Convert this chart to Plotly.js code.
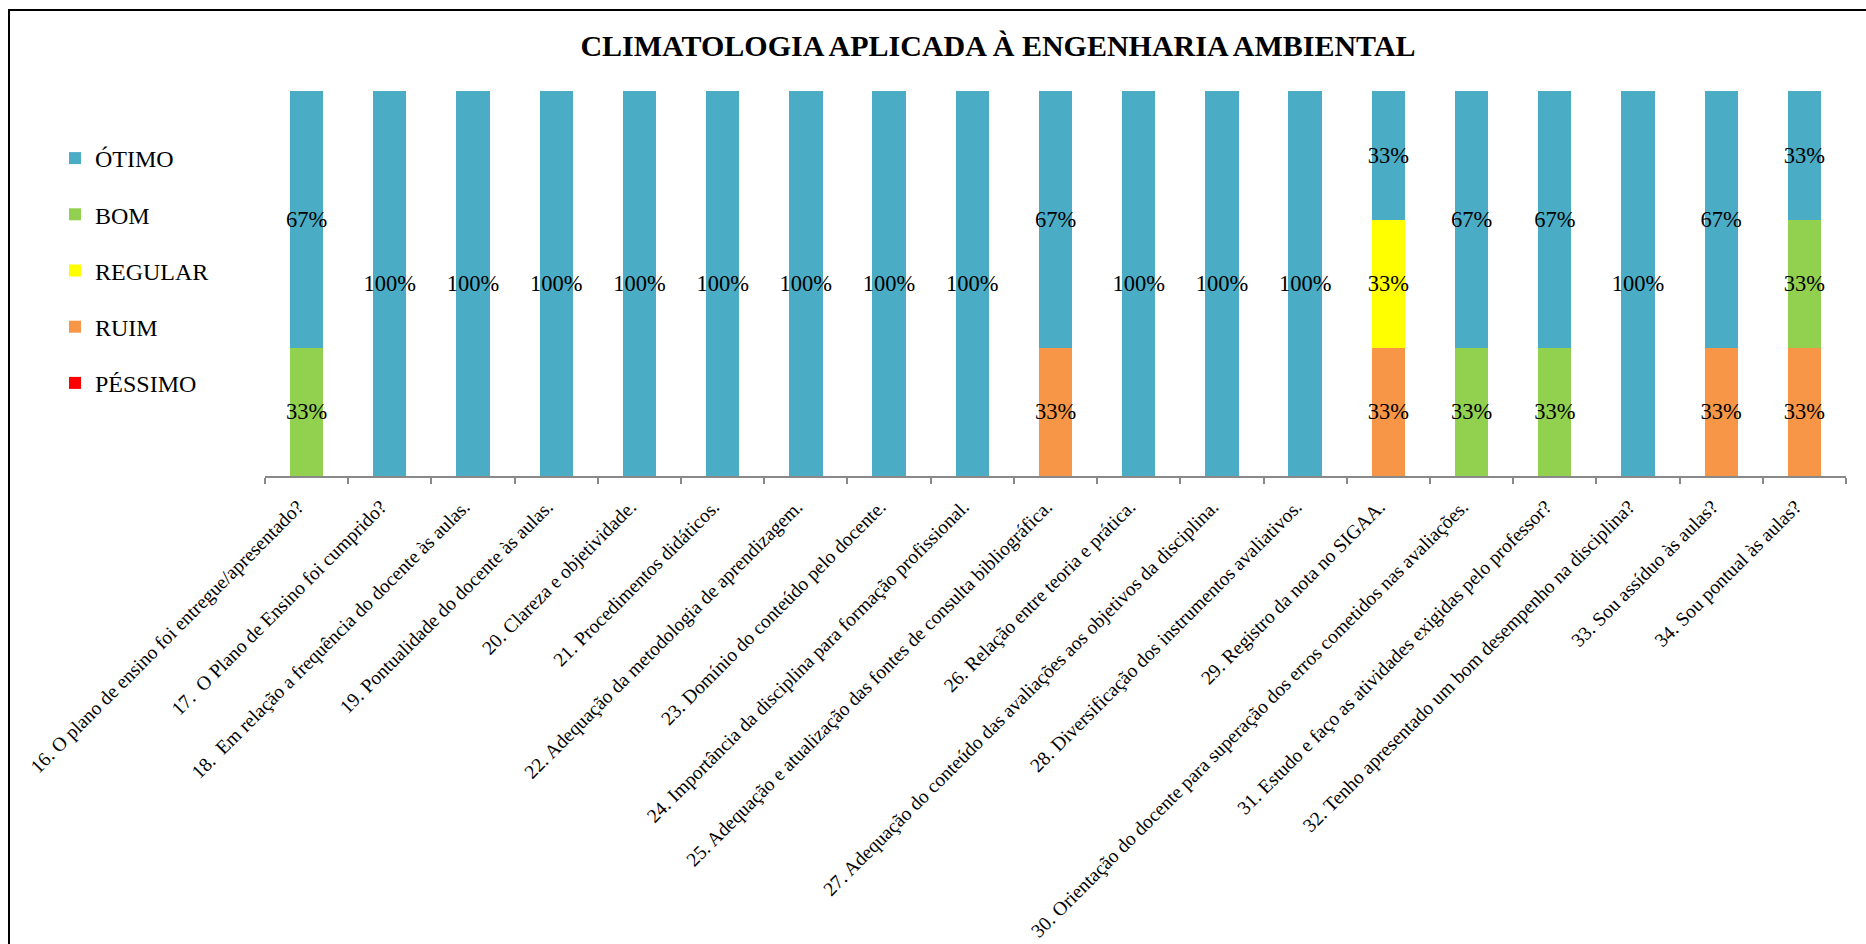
<!DOCTYPE html>
<html>
<head>
<meta charset="utf-8">
<script src="https://cdn.plot.ly/plotly-3.0.1.min.js"></script>
<style>
  html, body { margin: 0; padding: 0; background: #fff; overflow: hidden; }
  #wrap { position: relative; width: 1866px; height: 944px; }
  #chart { position: absolute; left: 0; top: 0; width: 1866px; height: 944px; }
  #frame { position: absolute; left: 8px; top: 9px; width: 3000px; height: 3000px;
           border-left: 2.5px solid #000; border-top: 2.5px solid #000; pointer-events: none; }
</style>
</head>
<body>
<div id="wrap">
  <div id="chart"></div>
  <div id="frame"></div>
</div>
<script>
// Categories (x-axis questions)
const categories = [
  "16. O plano de ensino foi entregue/apresentado?",
  "17.\u00A0 O Plano de Ensino foi cumprido?",
  "18.\u00A0 Em relação a frequência do docente às aulas.",
  "19. Pontualidade do docente às aulas.",
  "20. Clareza e objetividade.",
  "21. Procedimentos didáticos.",
  "22. Adequação da metodologia de aprendizagem.",
  "23. Domínio do conteúdo pelo docente.",
  "24. Importância da disciplina para formação profissional.",
  "25. Adequação e atualização das fontes de consulta bibliográfica.",
  "26. Relação entre teoria e prática.",
  "27. Adequação do conteúdo das avaliações aos objetivos da disciplina.",
  "28. Diversificação dos instrumentos avaliativos.",
  "29. Registro da nota no SIGAA.",
  "30. Orientação do docente para superação dos erros cometidos nas avaliações.",
  "31. Estudo e faço as atividades exigidas pelo professor?",
  "32. Tenho apresentado um bom desempenho na disciplina?",
  "33. Sou assíduo às aulas?",
  "34. Sou pontual às aulas?"
];

// Series values (percent of responses)
const pessimo = [0,0,0,0,0,0,0,0,0,0,0,0,0,0,0,0,0,0,0];
const ruim    = [0,0,0,0,0,0,0,0,0,33.3,0,0,0,33.3,0,0,0,33.3,33.3];
const regular = [0,0,0,0,0,0,0,0,0,0,0,0,0,33.3,0,0,0,0,0];
const bom     = [33.3,0,0,0,0,0,0,0,0,0,0,0,0,0,33.3,33.3,0,0,33.3];
const otimo   = [66.7,100,100,100,100,100,100,100,100,66.7,100,100,100,33.3,66.7,66.7,100,66.7,33.3];

// stacking order bottom -> top
const seriesNames  = ["PÉSSIMO", "RUIM", "REGULAR", "BOM", "ÓTIMO"];
const seriesValues = [pessimo, ruim, regular, bom, otimo];
const seriesColors = ["#FF0000", "#F79646", "#FFFF00", "#92D050", "#4BACC6"];
const legendRanks  = [5, 4, 3, 2, 1];

const serif = "'Liberation Serif', 'Times New Roman', serif";

const traces = seriesNames.map((name, i) => ({
  type: "bar",
  name: name,
  x: categories,
  y: seriesValues[i].map(v => (v === 0 ? null : v)),
  marker: { color: seriesColors[i] },
  legendgroup: name,
  legendrank: legendRanks[i],
  texttemplate: "%{y:.0f}%",
  textposition: "inside",
  insidetextanchor: "middle",
  textangle: 0,
  constraintext: "none",
  textfont: { family: serif, size: 22.5, color: "#000" },
  hoverinfo: "x+y+name"
}));

const plotL = 265, plotR = 1846, plotT = 91, plotB = 476;
const pw = plotR - plotL, ph = plotB - plotT;

const layout = {
  width: 1866,
  height: 944,
  margin: { l: plotL, r: 1866 - plotR, t: plotT, b: 944 - plotB, pad: 0 },
  paper_bgcolor: "#fff",
  plot_bgcolor: "#fff",
  barmode: "stack",
  bargap: 0.6,
  title: {
    text: "CLIMATOLOGIA APLICADA À ENGENHARIA AMBIENTAL",
    font: { family: serif, size: 30, color: "#000", weight: 700 },
    x: 998 / 1866, xref: "container", xanchor: "center",
    y: 1 - 45 / 944, yref: "container", yanchor: "middle"
  },
  xaxis: {
    type: "category",
    tickangle: -45,
    tickfont: { family: serif, size: 19.5, color: "#000" },
    ticklabelstandoff: 10,
    ticklabelshift: -9,
    showline: true,
    linecolor: "#898989",
    linewidth: 1.5,
    ticks: "outside",
    tickson: "boundaries",
    ticklen: 6,
    tickcolor: "#898989",
    tickwidth: 1.5,
    showgrid: false,
    zeroline: false,
    automargin: false
  },
  yaxis: {
    range: [0, 100],
    visible: false,
    showgrid: false,
    zeroline: false,
    fixedrange: true
  },
  showlegend: true,
  legend: {
    traceorder: "grouped",
    tracegroupgap: 22,
    x: (55 - plotL) / pw,
    xanchor: "left",
    y: (plotB - 136) / ph,
    yanchor: "top",
    font: { family: serif, size: 24, color: "#000" },
    bgcolor: "rgba(0,0,0,0)",
    borderwidth: 0
  }
};

Plotly.newPlot("chart", traces, layout, { displayModeBar: false, responsive: false });
</script>
</body>
</html>
